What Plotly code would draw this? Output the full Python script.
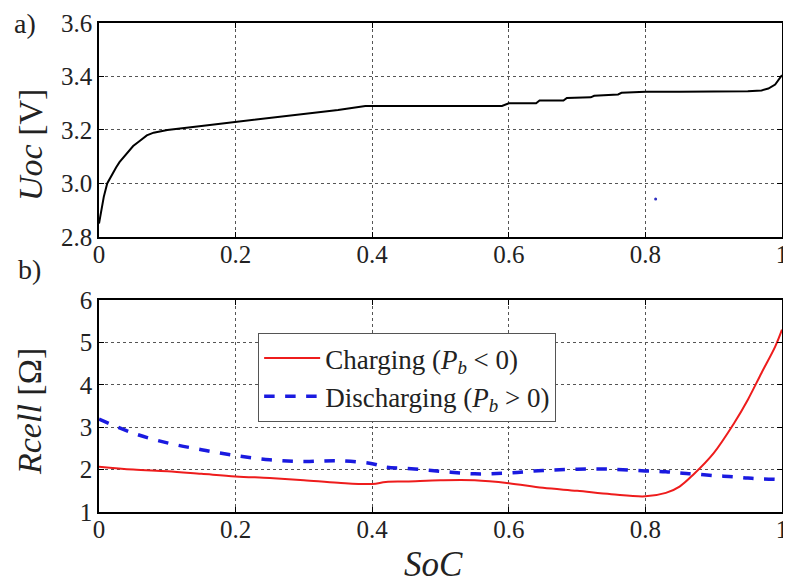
import plotly.graph_objects as go
from plotly.subplots import make_subplots

# ---- data ----
soc_uoc = [0.0, 0.003, 0.007, 0.012, 0.018, 0.025, 0.03, 0.04, 0.05, 0.06, 0.07, 0.08, 0.1, 0.15,
           0.2, 0.25, 0.3, 0.35, 0.39, 0.45, 0.5, 0.55, 0.59, 0.6, 0.64, 0.645, 0.68, 0.685,
           0.72, 0.725, 0.76, 0.765, 0.8, 0.85, 0.9, 0.95, 0.97, 0.98, 0.99, 1.0]
uoc = [2.85, 2.9, 2.95, 3.0, 3.03, 3.06, 3.08, 3.11, 3.14, 3.16, 3.18, 3.19, 3.2, 3.215,
       3.23, 3.245, 3.26, 3.275, 3.29, 3.29, 3.29, 3.29, 3.29, 3.30, 3.30, 3.31, 3.31, 3.32,
       3.322, 3.328, 3.333, 3.339, 3.343, 3.343, 3.343, 3.345, 3.348, 3.355, 3.37, 3.405]

stray_soc = [0.815]
stray_uoc = [2.942]

soc_r = [0.0, 0.05, 0.1, 0.15, 0.2, 0.25, 0.3, 0.35, 0.4, 0.42, 0.45, 0.5, 0.55, 0.6, 0.65, 0.7,
         0.75, 0.8, 0.83, 0.85, 0.87, 0.9, 0.93, 0.95, 0.97, 0.99, 1.0]
r_charge = [2.07, 2.0, 1.96, 1.9, 1.84, 1.8, 1.75, 1.69, 1.66, 1.71, 1.72, 1.75, 1.75, 1.68, 1.57,
            1.5, 1.42, 1.37, 1.45, 1.6, 1.88, 2.39, 3.1, 3.65, 4.28, 4.9, 5.3]
r_discharge = [3.19, 2.86, 2.63, 2.47, 2.33, 2.23, 2.19, 2.21, 2.14, 2.06, 2.03, 1.96, 1.9, 1.92,
               1.98, 2.01, 2.01, 1.97, 1.95, 1.92, 1.9, 1.86, 1.83, 1.8, 1.78, 1.77, 1.76]

x_ticks = [0, 0.2, 0.4, 0.6, 0.8, 1]
x_ticklabels = ["0", "0.2", "0.4", "0.6", "0.8", "1"]
uoc_ticks = [2.8, 3.0, 3.2, 3.4, 3.6]
uoc_ticklabels = ["2.8", "3.0", "3.2", "3.4", "3.6"]
r_ticks = [1, 2, 3, 4, 5, 6]

FONT = "Liberation Serif, Times New Roman, DejaVu Serif, serif"
TXT = "#222222"

fig = make_subplots(rows=2, cols=1, vertical_spacing=0.0)

fig.add_trace(go.Scatter(x=soc_uoc, y=uoc, mode="lines", line=dict(color="black", width=2),
                         showlegend=False), row=1, col=1)
fig.add_trace(go.Scatter(x=stray_soc, y=stray_uoc, mode="markers",
                         marker=dict(color="#3030c0", size=3), showlegend=False), row=1, col=1)
fig.add_trace(go.Scatter(x=soc_r, y=r_charge, mode="lines", line=dict(color="#ee1c1c", width=2),
                         line_shape="spline",
                         name="Charging (<i>P</i><sub><i>b</i></sub> &lt; 0)"), row=2, col=1)
fig.add_trace(go.Scatter(x=soc_r, y=r_discharge, mode="lines",
                         line=dict(color="#1a1ae0", width=3.5, dash="dash"), line_shape="spline",
                         name="Discharging (<i>P</i><sub><i>b</i></sub> &gt; 0)"), row=2, col=1)

axis_common = dict(
    showline=True, linecolor="black", linewidth=1.5, mirror="ticks",
    ticks="inside", ticklen=5, tickcolor="black", automargin=False,
    showgrid=True, gridcolor="#555555", gridwidth=1, griddash="dot",
    zeroline=False, tickfont=dict(family=FONT, size=25, color=TXT),
)

fig.update_xaxes(**axis_common, range=[0, 1], tickvals=x_ticks, ticktext=x_ticklabels,
                 ticklabelstandoff=-6)
fig.update_xaxes(domain=[0, 1], row=1, col=1)

fig.update_yaxes(**axis_common)
fig.update_yaxes(row=1, col=1, domain=[0.5624, 1.0], range=[2.8, 3.6], tickvals=uoc_ticks,
                 ticktext=uoc_ticklabels)
fig.update_yaxes(row=2, col=1, domain=[0.0, 0.4335], range=[1, 6], tickvals=r_ticks)

ann_font = dict(family=FONT, size=34, color=TXT)
fig.add_annotation(text="<i>Uoc</i> [V]", xref="paper", yref="paper", x=-0.101, y=0.7505,
                   xanchor="center", yanchor="middle", textangle=-90, showarrow=False, font=ann_font)
fig.add_annotation(text="<i>Rcell</i> [Ω]", xref="paper", yref="paper", x=-0.101, y=0.2045,
                   xanchor="center", yanchor="middle", textangle=-90, showarrow=False, font=ann_font)
fig.add_annotation(text="<i>SoC</i>", xref="paper", yref="paper", x=0.49, y=-0.108,
                   xanchor="center", yanchor="middle", showarrow=False,
                   font=dict(family=FONT, size=35, color=TXT))

fig.add_annotation(text="a)", xref="paper", yref="paper", x=-0.128, y=1.0, xanchor="left", yanchor="middle",
                   showarrow=False, font=dict(family=FONT, size=28, color=TXT))
fig.add_annotation(text="b)", xref="paper", yref="paper", x=-0.122, y=0.495, xanchor="left", yanchor="middle",
                   showarrow=False, font=dict(family=FONT, size=28, color=TXT))

fig.update_layout(
    width=783, height=580,
    margin=dict(l=91, r=9, t=15, b=76),
    paper_bgcolor="white", plot_bgcolor="white",
    font=dict(family=FONT, color=TXT),
    legend=dict(x=0.233, y=0.366, xanchor="left", yanchor="top",
                bgcolor="white", bordercolor="#555555", borderwidth=1,
                font=dict(family=FONT, size=27, color=TXT), itemwidth=56,
                tracegroupgap=0),
)

fig.write_html("out.html")
